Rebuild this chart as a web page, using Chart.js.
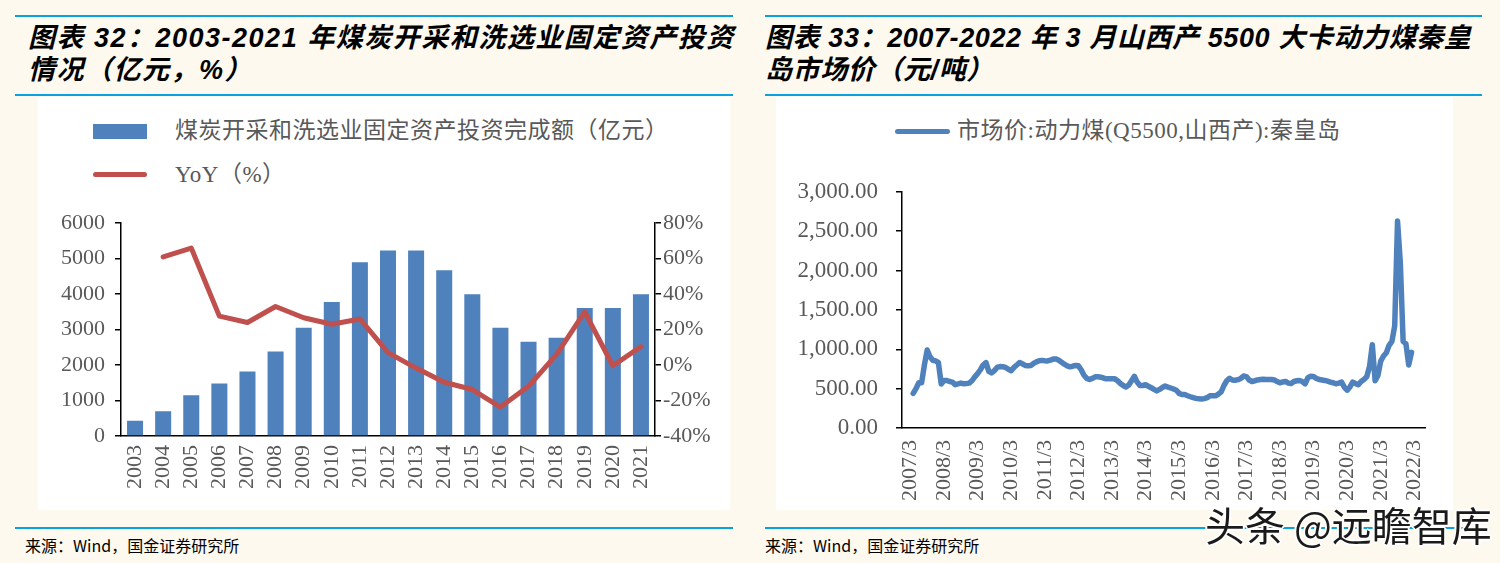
<!DOCTYPE html>
<html>
<head>
<meta charset="utf-8">
<script src="https://cdn.jsdelivr.net/npm/chart.js@4.4.1/dist/chart.umd.min.js"></script>
<style>
    body {
        margin: 0;
        width: 1500px;
        height: 563px;
        background: #fdf9ee;
        position: relative;
        overflow: hidden;
        font-family: "Liberation Serif", "Noto Sans CJK SC", serif;
    }
    .rule { position: absolute; height: 2px; background: #0ba0e0; }
    .title {
        position: absolute;
        font: italic bold 27px "Liberation Sans", "Noto Sans CJK SC", sans-serif;
        line-height: 32px;
        letter-spacing: 1.5px;
        color: #000;
        white-space: nowrap;
    }
    .panel { position: absolute; background: #fff; }
    .legend-text {
        position: absolute;
        font-size: 23px;
        line-height: 30px;
        letter-spacing: 0.5px;
        color: #595959;
        white-space: nowrap;
    }
    .swatch { position: absolute; }
    .source {
        position: absolute;
        font: 16px "Noto Sans CJK SC", sans-serif;
        line-height: 24px;
        color: #000;
        white-space: nowrap;
    }
    .watermark {
        position: absolute;
        left: 1205px;
        top: 500px;
        font: 40px "Noto Sans CJK SC", sans-serif;
        line-height: 48px;
        color: #1a1a1a;
        white-space: nowrap;
        text-shadow: 2px 0 #fff, -2px 0 #fff, 0 2px #fff, 0 -2px #fff, 1px 1px #fff, -1px -1px #fff, 1px -1px #fff, -1px 1px #fff;
    }
    canvas { position: absolute; }
</style>
</head>
<body>

<!-- 图表 32 -->
<div class="rule" style="left:15px; top:15px; width:718px;"></div>
<div class="title" style="left:28px; top:22px;">图表 32：2003-2021 年煤炭开采和洗选业固定资产投资<br>情况（亿元，%）</div>
<div class="rule" style="left:15px; top:94px; width:718px;"></div>
<div class="panel" style="left:38px; top:97px; width:692px; height:413px;"></div>
<div class="swatch" style="left:93px; top:124px; width:54px; height:15px; background:#4f81bd;"></div>
<div class="legend-text" style="left:175px; top:116px;">煤炭开采和洗选业固定资产投资完成额（亿元）</div>
<div class="swatch" style="left:93px; top:172px; width:54px; height:5px; border-radius:3px; background:#c0504d;"></div>
<div class="legend-text" style="left:175px; top:160px;">YoY（%）</div>
<canvas id="investChart" width="692" height="310" style="left:38px; top:200px;"></canvas>
<div class="rule" style="left:15px; top:527px; width:718px;"></div>
<div class="source" style="left:25px; top:533px;">来源：Wind，国金证券研究所</div>

<!-- 图表 33 -->
<div class="rule" style="left:765px; top:15px; width:717px;"></div>
<div class="title" style="left:765px; top:22px; letter-spacing:0.6px;">图表 33：2007-2022 年 3 月山西产 5500 大卡动力煤秦皇<br>岛市场价（元/吨）</div>
<div class="rule" style="left:765px; top:94px; width:717px;"></div>
<div class="panel" style="left:776px; top:97px; width:677px; height:413px;"></div>
<div class="swatch" style="left:895px; top:129px; width:55px; height:5px; border-radius:3px; background:#4f81bd;"></div>
<div class="legend-text" style="left:957px; top:116px;">市场价:动力煤(Q5500,山西产):秦皇岛</div>
<canvas id="priceChart" width="677" height="350" style="left:776px; top:160px;"></canvas>
<div class="rule" style="left:765px; top:527px; width:717px;"></div>
<div class="source" style="left:765px; top:533px;">来源：Wind，国金证券研究所</div>

<div class="watermark">头条 @远瞻智库</div>

<script>
// 图表32：煤炭开采和洗选业固定资产投资
const years = ['2003', '2004', '2005', '2006', '2007', '2008', '2009', '2010', '2011', '2012',
               '2013', '2014', '2015', '2016', '2017', '2018', '2019', '2020', '2021'];
const investment = [430, 700, 1150, 1480, 1820, 2380, 3050, 3780, 4900, 5230,
                    5230, 4670, 4000, 3050, 2660, 2770, 3610, 3610, 4000];
const investYoy = [null, 61, 66, 27.6, 24, 33, 26.7, 23, 26, 7,
                   -1.7, -9.7, -13.8, -23.7, -12, 6, 30, -0.4, 10.4];

// 图表33：秦皇岛动力煤市场价，月度，从 2007/4 开始
const priceStartOffset = 1; // months after 2007/3
const prices = [
    440, 500, 574, 574, 800, 990, 905, 860, 852, 830, 560, 604,
    604, 590, 583, 550, 560, 570, 562, 565, 570, 600, 650, 690,
    740, 800, 831, 720, 700, 730, 769, 780, 778, 769, 745, 728,
    770, 800, 831, 815, 795, 790, 795, 820, 840, 855, 859, 855,
    852, 862, 875, 878, 860, 835, 810, 790, 777, 785, 795, 790,
    740, 670, 630, 616, 630, 650, 650, 645, 635, 624, 624, 624,
    624, 600, 565, 540, 521, 545, 600, 657, 583, 540, 540, 549,
    530, 512, 490, 471, 490, 515, 533, 520, 508, 495, 480, 440,
    425, 425, 410, 397, 385, 376, 370, 368, 373, 385, 409, 409,
    409, 430, 459, 540, 600, 632, 610, 606, 614, 630, 660, 653,
    610, 591, 600, 610, 616, 620, 616, 616, 616, 610, 590, 574,
    585, 591, 570, 565, 591, 600, 604, 590, 562, 640, 657, 655,
    630, 616, 610, 604, 595, 583, 575, 562, 570, 583, 520, 480,
    521, 583, 565, 549, 590, 616, 650, 780, 1058, 600, 666, 850,
    914, 955, 1050, 1100, 1300, 2629, 2100, 1100, 1070, 800, 960
];
const priceTickLabels = ['2007/3', '2008/3', '2009/3', '2010/3', '2011/3', '2012/3', '2013/3', '2014/3',
                         '2015/3', '2016/3', '2017/3', '2018/3', '2019/3', '2020/3', '2021/3', '2022/3'];

const axisGray = '#595959';
const tickFont = { family: '"Liberation Serif", serif', size: 22 };

// Chart 32: bars + YoY line
new Chart(document.getElementById('investChart'), {
    data: {
        labels: years,
        datasets: [{
            type: 'line',
            data: investYoy,
            yAxisID: 'yoy',
            borderColor: '#c0504d',
            borderWidth: 5,
            pointRadius: 0,
            tension: 0,
            borderCapStyle: 'round',
            borderJoinStyle: 'round'
        }, {
            type: 'bar',
            data: investment,
            yAxisID: 'amount',
            backgroundColor: '#4f81bd',
            categoryPercentage: 1,
            barPercentage: 0.57
        }]
    },
    options: {
        responsive: false,
        animation: false,
        devicePixelRatio: 1,
        layout: { padding: { top: 22, right: 0, bottom: 0, left: 0 } },
        plugins: { legend: { display: false }, tooltip: { enabled: false } },
        scales: {
            x: {
                grid: { display: true, drawOnChartArea: false, drawTicks: false },
                border: { color: '#000', width: 1.5 },
                ticks: { color: axisGray, font: tickFont, minRotation: 90, maxRotation: 90, padding: 9, autoSkip: false },
                afterFit: function(scale) { scale.height = 74; }
            },
            amount: {
                position: 'left',
                min: 0,
                max: 6000,
                grid: { drawOnChartArea: false, color: '#000', tickLength: 6, lineWidth: 1.5 },
                border: { color: '#000', width: 1.5 },
                ticks: {
                    stepSize: 1000,
                    color: axisGray,
                    font: tickFont,
                    padding: 10,
                    callback: function(value) { return String(value); }
                },
                afterFit: function(scale) { scale.width = 83; }
            },
            yoy: {
                position: 'right',
                min: -40,
                max: 80,
                grid: { drawOnChartArea: false, color: '#000', tickLength: 6, lineWidth: 1.5 },
                border: { color: '#000', width: 1.5 },
                ticks: {
                    stepSize: 20,
                    color: axisGray,
                    font: tickFont,
                    padding: 2,
                    callback: function(value) { return value + '%'; }
                },
                afterFit: function(scale) { scale.width = 75; }
            }
        }
    }
});

// Chart 33: price line
new Chart(document.getElementById('priceChart'), {
    type: 'line',
    data: {
        datasets: [{
            data: prices.map((v, i) => ({ x: i + priceStartOffset, y: v })),
            borderColor: '#4f81bd',
            borderWidth: 5.5,
            pointRadius: 0,
            tension: 0,
            borderJoinStyle: 'round',
            borderCapStyle: 'round'
        }]
    },
    options: {
        responsive: false,
        animation: false,
        devicePixelRatio: 1,
        layout: { padding: { top: 25, right: 13, bottom: 0, left: 0 } },
        plugins: { legend: { display: false }, tooltip: { enabled: false } },
        scales: {
            x: {
                type: 'linear',
                min: -3,
                max: 184,
                grid: { display: true, drawOnChartArea: false, drawTicks: false },
                border: { color: '#000', width: 1.5 },
                afterBuildTicks: function(scale) {
                    scale.ticks = priceTickLabels.map((label, k) => ({ value: k * 12 }));
                },
                ticks: {
                    color: axisGray,
                    font: tickFont,
                    minRotation: 90,
                    maxRotation: 90,
                    padding: 12,
                    autoSkip: false,
                    callback: function(value) { return priceTickLabels[value / 12]; }
                },
                afterFit: function(scale) { scale.height = 82; }
            },
            y: {
                min: 0,
                max: 3000,
                grid: { drawOnChartArea: false, color: '#000', tickLength: 6, lineWidth: 1.5 },
                border: { color: '#000', width: 1.5 },
                ticks: {
                    stepSize: 500,
                    color: axisGray,
                    font: { family: '"Liberation Serif", serif', size: 23 },
                    padding: 18,
                    callback: function(value) {
                        return value.toLocaleString('en-US', { minimumFractionDigits: 2, maximumFractionDigits: 2 });
                    }
                },
                afterFit: function(scale) { scale.width = 126; }
            }
        }
    }
});
</script>
</body>
</html>
